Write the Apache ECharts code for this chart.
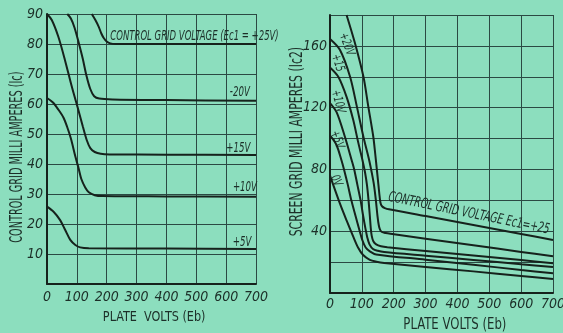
<!DOCTYPE html>
<html>
<head>
<meta charset="utf-8">
<script src="https://cdn.jsdelivr.net/npm/echarts@6/dist/echarts.min.js"></script>
<style>
  html, body { margin: 0; padding: 0; background: #8CDEBE; }
  #chart { width: 563px; height: 333px; }
</style>
</head>
<body>
<div id="chart"></div>
<script>
// Plate volts (Eb) on both panels
const plateVoltTicks = [0, 100, 200, 300, 400, 500, 600, 700];
// Labelled screen-grid current ticks on the right panel
const screenTickLabels = [40, 80, 120, 160];

// Control grid current Ic (mA) vs plate volts, one curve per grid voltage
const icPlus25 = [[150,90],[162,88],[173,85.8],[182,83.5],[190,82],[200,80.8],[212,80.2],[230,80],[400,80],[700,80]];
const icMinus20 = [[68,90],[80,88.5],[92,85.5],[106,80.5],[120,75],[132,69.5],[145,65],[158,62.6],[175,61.8],[220,61.5],[400,61.3],[700,61.1]];
const icPlus15 = [[0,90],[16,88],[38,82.4],[60,74.7],[83,65.8],[105,58],[120,52.5],[133,48],[145,45.3],[160,44],[180,43.4],[210,43.2],[400,43.1],[700,43]];
const icPlus10 = [[0,62],[20,60.5],[39,58],[55,55.5],[67,52.5],[80,48.5],[95,42.5],[106,38.5],[115,35],[128,32.2],[140,30.6],[160,29.6],[185,29.3],[400,29.2],[700,29.1]];
const icPlus5 = [[0,25.8],[22,24.1],[44,21.3],[61,18],[78,14.7],[95,13],[111,12.2],[140,11.9],[400,11.8],[700,11.7]];

// Screen grid current Ic2 (mA) vs plate volts
const ic2Plus25 = [[52,180],[78,162],[105,140],[120,121],[136,101],[142,90],[147,80],[152,70],[156,62],[159,58],[164,56],[172,55],[185,54.2],[300,49.8],[450,44],[600,38.2],[700,34.3]];
const ic2Plus20 = [[0,164.5],[31,157.5],[63,140],[84,121],[105,101],[123,86],[131,78],[138,70],[144,60],[149,50],[153,44],[157,41],[163,39.5],[175,38.8],[190,38.3],[300,35.2],[450,30.9],[600,26.6],[700,23.8]];
const ic2Plus15 = [[0,146],[26,140],[52,127],[73,112],[88,98],[102,86],[110,78],[116,70],[121,60],[125,50],[128,42],[131,37],[136,33.5],[145,31.5],[160,30.3],[180,29.6],[300,27.2],[450,24.3],[600,21.3],[700,19.3]];
const ic2Plus10 = [[0,123],[21,117],[47,101],[68,86],[76,80],[86,70],[96,60],[104,50],[111,42],[117,36],[124,31.5],[135,28.5],[150,27.3],[170,26.5],[300,24.1],[450,21.4],[600,18.6],[700,16.8]];
const ic2Plus5 = [[0,102],[20,96],[36,86],[44,80],[56,70],[67,60],[80,50],[92,41],[102,34],[112,29.5],[125,27],[145,25],[300,21.6],[450,18.3],[600,14.9],[700,12.8]];
const ic2Zero = [[0,76],[31,58],[52,47],[73,36.5],[88,29.5],[104,24.6],[125,21.5],[146,20.3],[170,19.5],[300,16.9],[450,14],[600,11],[700,9]];

const INK = '#16221c';
const TEXT = '#1c2f28';
const GRIDLINE = '#2b4943';
const NARROW = '"Liberation Sans Narrow", "DejaVu Sans Condensed", sans-serif';

const chart = echarts.init(document.getElementById('chart'), null, { renderer: 'canvas' });

function xAxis(gridIndex) {
  return {
    type: 'value', gridIndex, min: 0, max: 700, interval: 100,
    axisLine: { show: true, onZero: false, lineStyle: { color: INK, width: 2 } },
    axisTick: { show: false },
    splitLine: { show: true, lineStyle: { color: GRIDLINE, width: 1 } },
    axisLabel: {
      fontFamily: NARROW, fontStyle: 'italic', fontSize: 14, color: TEXT, margin: gridIndex === 0 ? 6 : 4,
      formatter: v => plateVoltTicks.includes(v) ? String(v) : ''
    }
  };
}

function curve(data, axis) {
  return {
    type: 'line', data, xAxisIndex: axis, yAxisIndex: axis,
    showSymbol: false, smooth: 0.3, silent: true,
    lineStyle: { color: INK, width: 2 }
  };
}

chart.setOption({
  backgroundColor: '#8CDEBE',
  animation: false,
  grid: [
    { left: 47, top: 14, right: 307, bottom: 49, containLabel: false, outerBoundsMode: 'none' },
    { left: 330, top: 15, right: 10, bottom: 40, containLabel: false, outerBoundsMode: 'none' }
  ],
  xAxis: [xAxis(0), xAxis(1)],
  yAxis: [
    {
      type: 'value', gridIndex: 0, min: 0, max: 90, interval: 10,
      axisLine: { show: true, lineStyle: { color: INK, width: 2 } },
      axisTick: { show: false },
      splitLine: { show: true, lineStyle: { color: GRIDLINE, width: 1 } },
      axisLabel: {
        fontFamily: NARROW, fontStyle: 'italic', fontSize: 14, color: TEXT, margin: 4,
        formatter: v => v === 0 ? '' : String(v)
      }
    },
    {
      type: 'value', gridIndex: 1, min: 0, max: 180, interval: 20,
      axisLine: { show: true, lineStyle: { color: INK, width: 2 } },
      axisTick: { show: false },
      splitLine: { show: true, lineStyle: { color: GRIDLINE, width: 1 } },
      axisLabel: {
        fontFamily: NARROW, fontStyle: 'italic', fontSize: 14, color: TEXT, margin: 3,
        formatter: v => screenTickLabels.includes(v) ? String(v) : ''
      }
    }
  ],
  series: [
    curve(icPlus25, 0), curve(icMinus20, 0), curve(icPlus15, 0), curve(icPlus10, 0), curve(icPlus5, 0),
    curve(ic2Plus25, 1), curve(ic2Plus20, 1), curve(ic2Plus15, 1), curve(ic2Plus10, 1), curve(ic2Plus5, 1), curve(ic2Zero, 1)
  ]
});

// Text labels anchored to data coordinates of each panel
function at(grid, v, val) {
  return chart.convertToPixel({ gridIndex: grid }, [v, val]);
}
function label(text, grid, v, val, opt) {
  const p = at(grid, v, val);
  const o = opt || {};
  return {
    type: 'text', silent: true,
    x: p[0] + (o.dx || 0), y: p[1] + (o.dy || 0),
    rotation: (o.rot || 0) * Math.PI / 180,
    scaleX: o.sx || 1, scaleY: o.sy || 1,
    style: {
      text, fill: TEXT,
      fontFamily: NARROW, fontSize: o.size || 12,
      fontStyle: o.italic === false ? 'normal' : 'italic',
      align: o.align || 'center', textAlign: o.align || 'center',
      verticalAlign: 'middle', textVerticalAlign: 'middle'
    }
  };
}

const graphics = [
  // axis titles
  label('CONTROL GRID MILLI AMPERES (Ic)', 0, 0, 42.3, { dx: -29, rot: 90, size: 12, sx: 0.9, sy: 1.4, italic: false }),
  label('PLATE  VOLTS (Eb)', 0, 359, 0, { dy: 33, size: 12.5, sy: 1.15, italic: false }),
  label('SCREEN GRID MILLI AMPERES (Ic2)', 1, 0, 98, { dx: -33, rot: 90, size: 13, sx: 0.93, sy: 1.35, italic: false }),
  label('PLATE VOLTS (Eb)', 1, 392, 0, { dy: 32, size: 13, sy: 1.15, italic: false }),
  // left panel curve labels
  label('CONTROL GRID VOLTAGE (Ec1 = +25V)', 0, 212, 82.5, { align: 'left', size: 11, sx: 0.86, sy: 1.2 }),
  label('-20V', 0, 646, 64, { size: 12, sx: 0.8, sy: 1.15 }),
  label('+15V', 0, 641, 45.3, { size: 12, sx: 0.8, sy: 1.15 }),
  label('+10V', 0, 663, 32.3, { size: 12, sx: 0.8, sy: 1.15 }),
  label('+5V', 0, 653, 14, { size: 12, sx: 0.8, sy: 1.15 }),
  // right panel curve labels
  label('CONTROL GRID VOLTAGE Ec1=+25', 1, 436, 49.5, { dy: -3, rot: -11.6, size: 12, sx: 0.86, sy: 1.2 }),
  label('+20V', 1, 52, 161, { rot: -70, size: 11, sx: 0.85, sy: 1.15 }),
  label('+15', 1, 24, 149, { rot: -72, size: 11, sx: 0.85, sy: 1.15 }),
  label('+10V', 1, 25, 124, { rot: -75, size: 11, sx: 0.85, sy: 1.15 }),
  label('+5V', 1, 22, 99.3, { rot: -70, size: 11, sx: 0.85, sy: 1.15 }),
  label('0V', 1, 19, 72.6, { rot: -65, size: 11, sx: 0.85, sy: 1.15 })
];

chart.setOption({ graphic: { elements: graphics } });
</script>
</body>
</html>
